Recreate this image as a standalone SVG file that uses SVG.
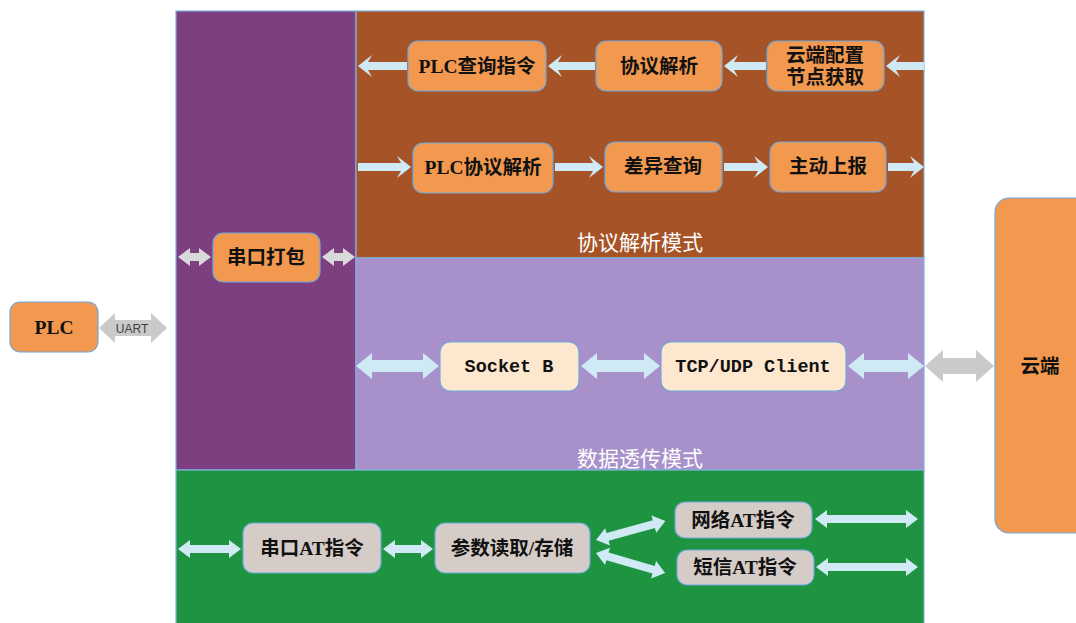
<svg xmlns="http://www.w3.org/2000/svg" width="1076" height="623" viewBox="0 0 1076 623">
<defs>
<style>
.panel{stroke:#7FB2DE;stroke-width:1.2}
.node rect{stroke:#6FA8DC;stroke-width:1.2}
.org{fill:#F2994F}
.peach{fill:#FDE8CF}
.tan{fill:#D6CCC7}
.t{font-family:"Liberation Serif","Noto Sans CJK SC",serif;font-size:19.5px;font-weight:bold;fill:#111;text-anchor:middle}
.m{font-family:"Liberation Mono",monospace;font-size:18.5px;font-weight:bold;fill:#111;text-anchor:middle}
.lbl{font-family:"Liberation Serif","Noto Sans CJK SC",serif;font-size:21px;fill:#fff;text-anchor:middle}
.blue{fill:#CFEAF5}
.gray{fill:#C9CAC9}
.lgray{fill:#D9D9D9}
</style>
</defs>
<rect width="1076" height="623" fill="#fff"/>
<g id="panels">
<rect class="panel" x="176" y="11" width="180" height="459" fill="#7E3F80"/>
<rect class="panel" x="356" y="11" width="568" height="247" fill="#A65427"/>
<rect class="panel" x="356" y="258" width="568" height="212" fill="#A891CB"/>
<rect class="panel" x="176" y="470" width="748" height="160" fill="#1E9441"/>
<text class="lbl" x="640" y="250">协议解析模式</text>
<text class="lbl" x="640" y="466">数据透传模式</text>
</g>
<g id="connectors">
<path class="gray" d="M99,328 L115,313 L115,320 L151,320 L151,313 L167,328 L151,343 L151,336 L115,336 L115,343 Z"/>
<text x="132" y="333" font-family="Liberation Sans,sans-serif" font-size="12" fill="#404040" text-anchor="middle">UART</text>
<path class="lgray" d="M178,257 L190,248 L190,253 L199,253 L199,248 L211,257 L199,266 L199,261 L190,261 L190,266 Z"/>
<path class="lgray" d="M322,257 L334,248 L334,253 L343,253 L343,248 L355,257 L343,266 L343,261 L334,261 L334,266 Z"/>
<path class="blue" d="M924,62 L896,62 L900,55 L886,66 L900,77 L896,70 L924,70 Z"/>
<path class="blue" d="M766,62 L734,62 L738,55 L724,66 L738,77 L734,70 L766,70 Z"/>
<path class="blue" d="M595,62 L558,62 L562,55 L548,66 L562,77 L558,70 L595,70 Z"/>
<path class="blue" d="M407,62 L368,62 L372,55 L358,66 L372,77 L368,70 L407,70 Z"/>
<path class="blue" d="M358,163 L401,163 L397,156 L411,167 L397,178 L401,171 L358,171 Z"/>
<path class="blue" d="M555,163 L593,163 L589,156 L603,167 L589,178 L593,171 L555,171 Z"/>
<path class="blue" d="M724,163 L758,163 L754,156 L768,167 L754,178 L758,171 L724,171 Z"/>
<path class="blue" d="M888,163 L914,163 L910,156 L924,167 L910,178 L914,171 L888,171 Z"/>
<path class="blue" d="M356,366 L372,353 L372,360 L423,360 L423,353 L439,366 L423,379 L423,372 L372,372 L372,379 Z"/>
<path class="blue" d="M581,366 L597,353 L597,360 L644,360 L644,353 L660,366 L644,379 L644,372 L597,372 L597,379 Z"/>
<path class="blue" d="M848,366 L864,353 L864,360 L908,360 L908,353 L924,366 L908,379 L908,372 L864,372 L864,379 Z"/>
<path class="gray" d="M925,366 L943,350 L943,358 L976,358 L976,350 L994,366 L976,382 L976,374 L943,374 L943,382 Z"/>
<path class="blue" d="M178,549 L190,540 L190,545 L229,545 L229,540 L241,549 L229,558 L229,553 L190,553 L190,558 Z"/>
<path class="blue" d="M383,549 L395,540 L395,545 L421,545 L421,540 L433,549 L421,558 L421,553 L395,553 L395,558 Z"/>
<path class="blue" transform="translate(596,540) rotate(-15.4)" d="M0,0 L12,-9 L12,-4 L60,-4 L60,-9 L72,0 L60,9 L60,4 L12,4 L12,9 Z"/>
<path class="blue" transform="translate(596,553) rotate(16.2)" d="M0,0 L12,-9 L12,-4 L60,-4 L60,-9 L72,0 L60,9 L60,4 L12,4 L12,9 Z"/>
<path class="blue" d="M815,519 L827,510 L827,515 L906,515 L906,510 L918,519 L906,528 L906,523 L827,523 L827,528 Z"/>
<path class="blue" d="M816,567 L828,558 L828,563 L906,563 L906,558 L918,567 L906,576 L906,571 L828,571 L828,576 Z"/>
</g>
<g id="plc" class="node"><rect class="org" x="10" y="302" width="88" height="50" rx="10"/><text class="t" x="54" y="334">PLC</text></g>
<g id="pack" class="node"><rect class="org" x="213" y="233" width="107" height="49" rx="10"/><text class="t" x="266" y="264">串口打包</text></g>
<g id="plcquery" class="node"><rect class="org" x="408" y="41" width="138" height="50" rx="10"/><text class="t" x="477" y="73">PLC查询指令</text></g>
<g id="parse" class="node"><rect class="org" x="596" y="41" width="126" height="50" rx="10"/><text class="t" x="659" y="73">协议解析</text></g>
<g id="cloudcfg" class="node"><rect class="org" x="767" y="41" width="117" height="50" rx="10"/><text class="t" x="825" y="62">云端配置</text><text class="t" x="825" y="84">节点获取</text></g>
<g id="plcparse" class="node"><rect class="org" x="413" y="143" width="140" height="50" rx="10"/><text class="t" x="483" y="174">PLC协议解析</text></g>
<g id="diff" class="node"><rect class="org" x="605" y="142" width="117" height="50" rx="10"/><text class="t" x="663" y="173">差异查询</text></g>
<g id="report" class="node"><rect class="org" x="770" y="142" width="116" height="50" rx="10"/><text class="t" x="828" y="173">主动上报</text></g>
<g id="socketb" class="node"><rect class="peach" x="440" y="342" width="139" height="49" rx="10"/><text class="m" x="509" y="372">Socket B</text></g>
<g id="tcpudp" class="node"><rect class="peach" x="661" y="342" width="185" height="49" rx="10"/><text class="m" x="753" y="372">TCP/UDP Client</text></g>
<g id="cloud" class="node"><rect class="org" x="995" y="198" width="100" height="335" rx="14"/><text class="t" x="1040" y="373">云端</text></g>
<g id="serialat" class="node"><rect class="tan" x="243" y="523" width="138" height="50" rx="10"/><text class="t" x="312" y="555">串口AT指令</text></g>
<g id="params" class="node"><rect class="tan" x="435" y="523" width="155" height="50" rx="10"/><text class="t" x="512" y="555">参数读取/存储</text></g>
<g id="netat" class="node"><rect class="tan" x="675" y="502" width="137" height="36" rx="10"/><text class="t" x="743" y="527">网络AT指令</text></g>
<g id="smsat" class="node"><rect class="tan" x="677" y="550" width="137" height="35" rx="10"/><text class="t" x="745" y="574">短信AT指令</text></g>
</svg>
